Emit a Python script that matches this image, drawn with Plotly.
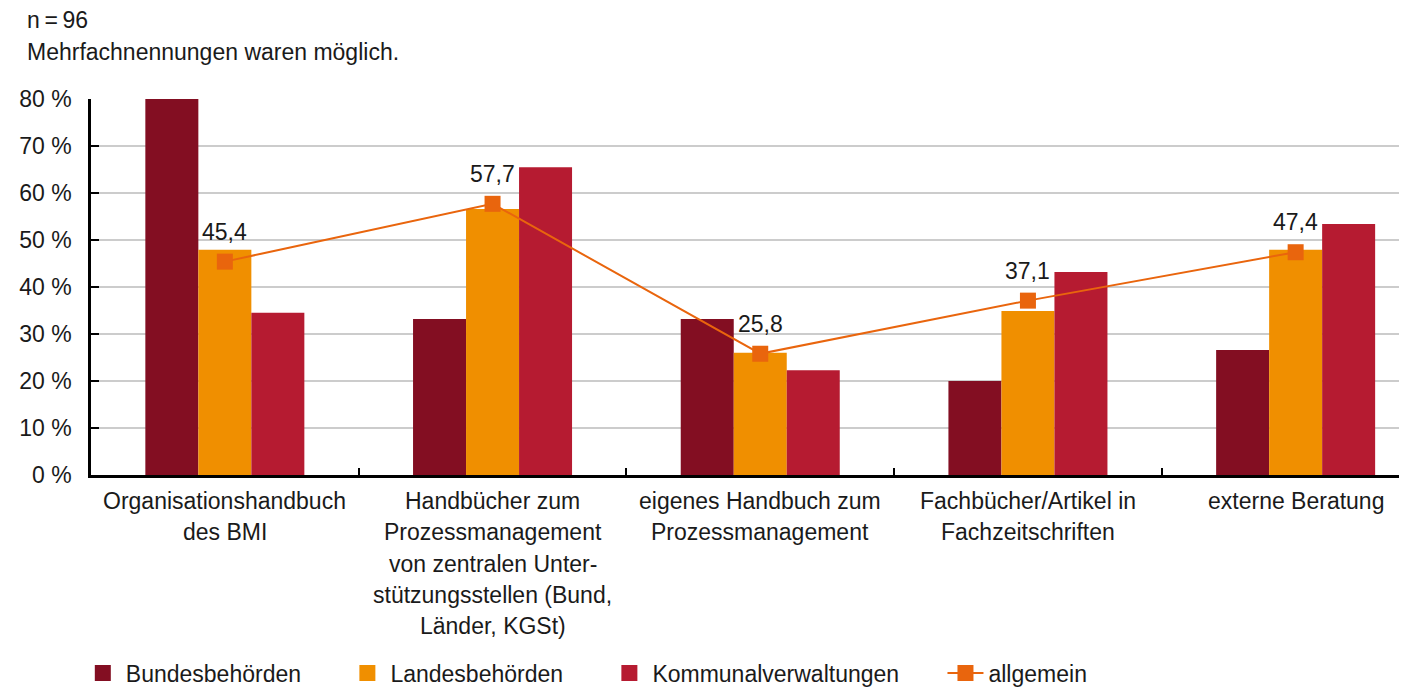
import plotly.graph_objects as go

# category labels, one list of lines per category
label_lines = [
    ["Organisationshandbuch", "des BMI"],
    ["Handbücher zum", "Prozessmanagement", "von zentralen Unter-", "stützungsstellen (Bund,", "Länder, KGSt)"],
    ["eigenes Handbuch zum", "Prozessmanagement"],
    ["Fachbücher/Artikel in", "Fachzeitschriften"],
    ["externe Beratung"],
]
categories = [" ".join(l) for l in label_lines]

bund = [80.0, 33.2, 33.2, 20.0, 26.6]
land = [47.9, 56.6, 26.0, 34.9, 47.9]
kommunal = [34.5, 65.5, 22.3, 43.2, 53.4]
allgemein = [45.4, 57.7, 25.8, 37.1, 47.4]

y_ticks = [0, 10, 20, 30, 40, 50, 60, 70, 80]

FONT = "Liberation Sans"
FS = 23
TXT = "#1a1a1a"
C_BUND = "#830E22"
C_LAND = "#F08F00"
C_KOMM = "#B61B31"
C_ALLG = "#E9650D"

fig = go.Figure()

for name, vals, col in [("Bundesbehörden", bund, C_BUND),
                        ("Landesbehörden", land, C_LAND),
                        ("Kommunalverwaltungen", kommunal, C_KOMM)]:
    fig.add_trace(go.Bar(x=categories, y=vals, name=name, marker_color=col,
                         marker_line_width=0, showlegend=False))
    # legend entry with a bigger square
    fig.add_trace(go.Scatter(x=[None], y=[None], mode="markers", name=name + "\u00a0" * 6,
                             marker=dict(symbol="square", size=22, color=col)))

fig.add_trace(go.Scatter(x=categories, y=allgemein, mode="lines+markers", name="allgemein",
                         line=dict(color=C_ALLG, width=2),
                         marker=dict(symbol="square", size=16, color=C_ALLG)))

for c, v in zip(categories, allgemein):
    fig.add_annotation(x=c, y=v, text=f"{v:.1f}".replace(".", ","), showarrow=False,
                       yshift=30, font=dict(size=FS, color=TXT, family=FONT))

for c, lines in zip(categories, label_lines):
    for i, line in enumerate(lines):
        fig.add_annotation(x=c, y=0, yref="paper", text=line, showarrow=False,
                           yanchor="middle", yshift=-26 - 31.3 * i,
                           font=dict(size=FS, color=TXT, family=FONT))

fig.add_annotation(xref="paper", x=(25 - 91) / 1316, y=1, yref="paper",
                   yshift=79, xanchor="left", yanchor="middle", text="n\u2009=\u200996",
                   showarrow=False, font=dict(size=FS, color=TXT, family=FONT))
fig.add_annotation(xref="paper", x=(25 - 91) / 1316, y=1, yref="paper",
                   yshift=47, xanchor="left", yanchor="middle",
                   text="Mehrfachnennungen waren möglich.",
                   showarrow=False, font=dict(size=FS, color=TXT, family=FONT))

# the page body adds an 8px offset, so the figure is sized 8px smaller
fig.update_layout(
    width=1399, height=681,
    margin=dict(l=83, r=0, t=91, b=214, autoexpand=False),
    paper_bgcolor="white", plot_bgcolor="white",
    font=dict(family=FONT, size=FS, color=TXT),
    barmode="group", bargap=0.406, bargroupgap=0,
    legend=dict(orientation="h", x=-0.0085, xanchor="left", y=-0.527, yanchor="middle",
                itemwidth=36,
                font=dict(size=FS, color=TXT, family=FONT), itemclick=False),
)
fig.update_xaxes(range=[-0.5, 4.416], showticklabels=False, showline=True,
                 linecolor="black", linewidth=2.5, ticks="inside", tickson="boundaries",
                 ticklen=7, tickwidth=2, tickcolor="black", showgrid=False)
fig.update_yaxes(range=[0, 80], tickvals=y_ticks, ticktext=[f"{t} %" for t in y_ticks],
                 showline=True, linecolor="black", linewidth=2.5, ticks="inside",
                 ticklen=8, tickwidth=2, tickcolor="black", showgrid=True,
                 gridcolor="#CCCCCC", gridwidth=1.5, zeroline=False, ticklabelstandoff=12,
                 automargin=False)

fig.write_html("out.html")
